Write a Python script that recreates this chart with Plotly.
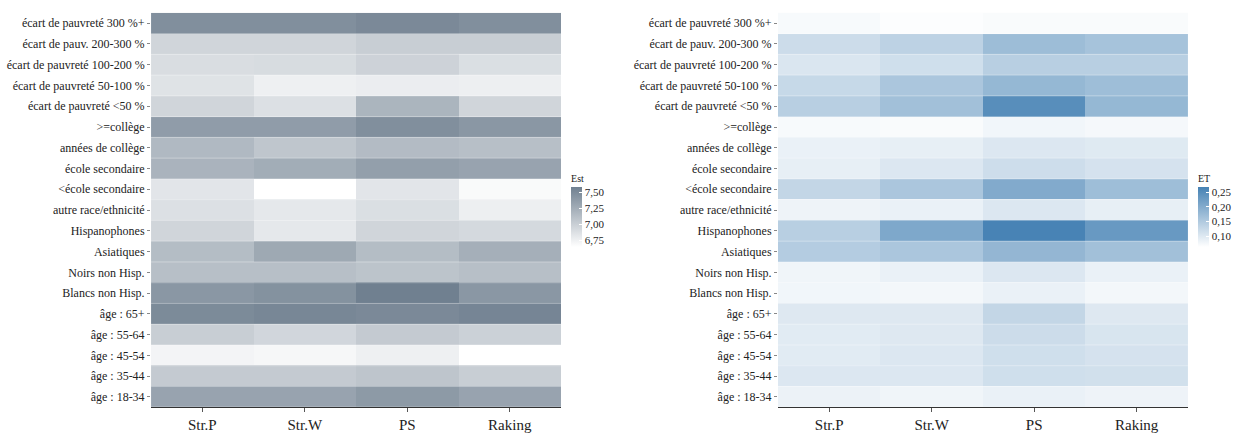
import plotly.graph_objects as go
from plotly.subplots import make_subplots

methods = ["Str.P", "Str.W", "PS", "Raking"]
groups = [
    "écart de pauvreté 300 %+",
    "écart de pauv. 200-300 %",
    "écart de pauvreté 100-200 %",
    "écart de pauvreté 50-100 %",
    "écart de pauvreté <50 %",
    ">=collège",
    "années de collège",
    "école secondaire",
    "<école secondaire",
    "autre race/ethnicité",
    "Hispanophones",
    "Asiatiques",
    "Noirs non Hisp.",
    "Blancs non Hisp.",
    "âge : 65+",
    "âge : 55-64",
    "âge : 45-54",
    "âge : 35-44",
    "âge : 18-34",
]

# Estimates per group (rows) and method (columns)
est = [
    [7.47, 7.47, 7.51, 7.47],
    [6.95, 6.95, 7.00, 7.00],
    [6.89, 6.90, 6.97, 6.88],
    [6.85, 6.75, 6.77, 6.76],
    [6.95, 6.87, 7.19, 6.95],
    [7.37, 7.37, 7.47, 7.41],
    [7.16, 7.06, 7.14, 7.11],
    [7.20, 7.25, 7.35, 7.32],
    [6.83, 6.64, 6.83, 6.68],
    [6.87, 6.81, 6.88, 6.76],
    [6.95, 6.81, 6.95, 6.92],
    [7.13, 7.28, 7.13, 7.23],
    [7.11, 7.11, 7.08, 7.11],
    [7.41, 7.45, 7.58, 7.41],
    [7.50, 7.53, 7.51, 7.54],
    [7.00, 6.94, 7.03, 6.98],
    [6.72, 6.70, 6.75, 6.64],
    [7.03, 7.03, 7.07, 7.00],
    [7.32, 7.32, 7.39, 7.32],
]

# Standard errors per group and method
se = [
    [0.071, 0.065, 0.069, 0.069],
    [0.119, 0.135, 0.171, 0.161],
    [0.103, 0.115, 0.141, 0.141],
    [0.125, 0.155, 0.179, 0.169],
    [0.141, 0.165, 0.247, 0.179],
    [0.071, 0.069, 0.077, 0.073],
    [0.085, 0.089, 0.101, 0.097],
    [0.089, 0.101, 0.117, 0.109],
    [0.129, 0.155, 0.201, 0.169],
    [0.081, 0.085, 0.101, 0.089],
    [0.141, 0.205, 0.265, 0.229],
    [0.145, 0.155, 0.181, 0.165],
    [0.079, 0.085, 0.101, 0.085],
    [0.077, 0.075, 0.085, 0.075],
    [0.099, 0.099, 0.129, 0.099],
    [0.095, 0.099, 0.119, 0.105],
    [0.095, 0.101, 0.115, 0.109],
    [0.101, 0.101, 0.115, 0.113],
    [0.083, 0.079, 0.085, 0.081],
]

est_ticks = [6.75, 7.00, 7.25, 7.50]
se_ticks = [0.10, 0.15, 0.20, 0.25]

FONT = "Liberation Serif, Times New Roman, serif"
TXT = "#222222"


def colorbar(title, x, ticks):
    return dict(
        title=dict(text=title, side="top", font=dict(size=10, family=FONT, color=TXT)),
        x=x, xanchor="left", y=0.600, yanchor="top",
        len=76, lenmode="pixels", ypad=0, xpad=0,
        thickness=11, outlinewidth=0,
        tickvals=ticks, tickformat=".2f", ticks="inside", ticklen=3,
        tickcolor="white", tickfont=dict(size=11, family=FONT, color=TXT),
    )


fig = make_subplots(rows=1, cols=2)

fig.add_trace(go.Heatmap(
    z=est, x=methods, y=groups,
    colorscale=[[0, "#ffffff"], [1, "#708090"]],
    zmin=6.64, zmax=7.58,
    colorbar=colorbar("Est", 0.4609, est_ticks),
), row=1, col=1)

fig.add_trace(go.Heatmap(
    z=se, x=methods, y=groups,
    colorscale=[[0, "#ffffff"], [1, "#4682b4"]],
    zmin=0.062, zmax=0.267,
    colorbar=colorbar("ET", 0.9669, se_ticks),
), row=1, col=2)

# faint borders between tiles
for xref, yref in (("x", "y"), ("x2", "y2")):
    for k in range(1, len(groups)):
        fig.add_shape(
            type="line", xref=f"{xref} domain", yref=yref,
            x0=0, x1=1, y0=k - 0.5, y1=k - 0.5,
            line=dict(color="rgba(255,255,255,0.35)", width=1),
        )

xaxis_style = dict(
    showline=True, linecolor="#333333", linewidth=1, ticks="outside", ticklen=4,
    tickcolor="#555555", tickfont=dict(size=15, family=FONT, color=TXT),
    showgrid=False, zeroline=False,
)
yaxis_style = dict(
    autorange="reversed", showline=False, ticks="outside", ticklen=3,
    tickcolor="#888888", tickfont=dict(size=12, family=FONT, color=TXT),
    showgrid=False, zeroline=False,
)

fig.update_layout(
    width=1239, height=433,
    margin=dict(l=0, r=0, t=0, b=0),
    paper_bgcolor="white", plot_bgcolor="white",
    separators=", ",
    font=dict(family=FONT, color=TXT),
    xaxis=dict(domain=[0.1219, 0.4528], **xaxis_style),
    xaxis2=dict(domain=[0.6279, 0.9588], **xaxis_style),
    yaxis=dict(domain=[0.0485, 0.970], **yaxis_style),
    yaxis2=dict(domain=[0.0485, 0.970], **yaxis_style),
)

fig.write_html("out.html")
